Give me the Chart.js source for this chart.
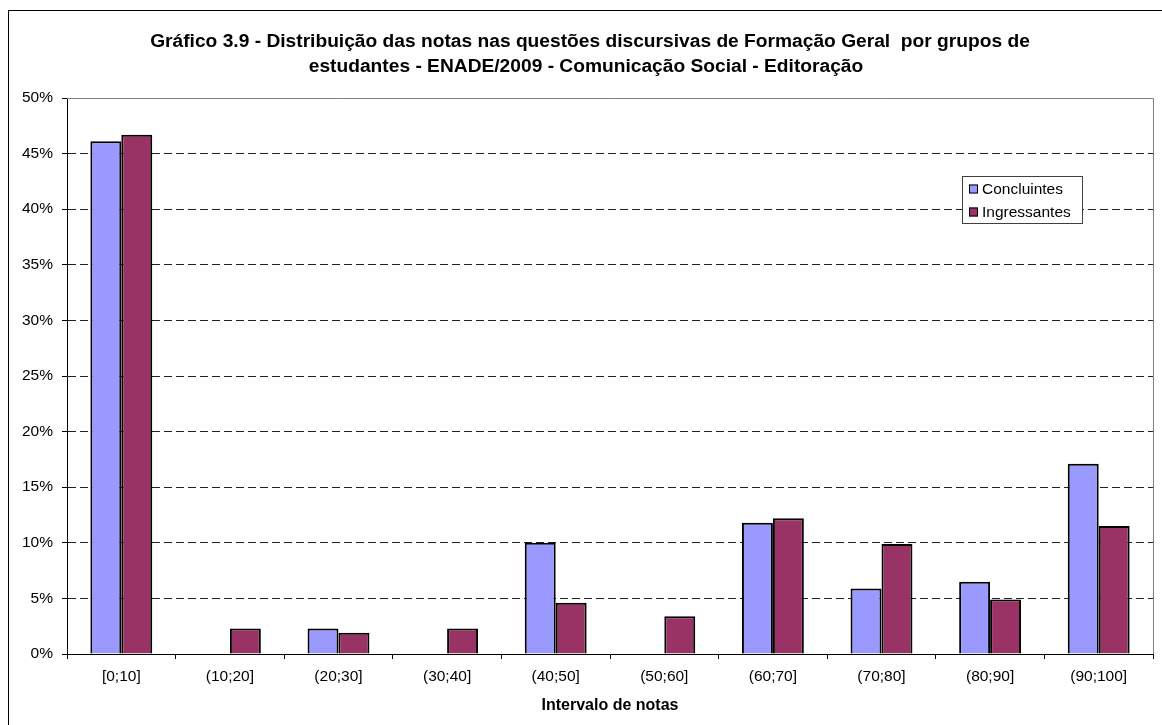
<!DOCTYPE html>
<html>
<head>
<meta charset="utf-8">
<script src="https://cdn.jsdelivr.net/npm/chart.js@4.4.1/dist/chart.umd.min.js"></script>
<style>
  html, body { margin: 0; padding: 0; background: #fff; overflow: hidden; }
  #frame { position: absolute; left: 8px; top: 10px; width: 1200px; height: 760px; border: 1px solid #000; box-sizing: border-box; }
  #wrap { position: absolute; left: 0; top: 0; width: 1162px; height: 725px; }
</style>
</head>
<body>
<div id="frame"></div>
<div id="wrap"><canvas id="c" width="1162" height="725"></canvas></div>
<script>
const categories = ['[0;10]', '(10;20]', '(20;30]', '(30;40]', '(40;50]', '(50;60]', '(60;70]', '(70;80]', '(80;90]', '(90;100]'];
const concluintes = [46.1, 0, 2.3, 0, 10.0, 0, 11.8, 5.9, 6.5, 17.1];
const ingressantes = [46.7, 2.3, 1.9, 2.3, 4.6, 3.4, 12.2, 9.9, 4.9, 11.5];
const seriesNames = ['Concluintes', 'Ingressantes'];
const titleLines = ['Gráfico 3.9 - Distribuição das notas nas questões discursivas de Formação Geral  por grupos de', 'estudantes - ENADE/2009 - Comunicação Social - Editoração'];
const xTitle = 'Intervalo de notas';

const FONT = '"Liberation Sans", Arial, sans-serif';

const decorPlugin = {
  id: 'decor',
  afterDraw(chart) {
    const ctx = chart.ctx;
    const a = chart.chartArea;
    ctx.save();
    // plot border top and right (gray)
    ctx.strokeStyle = '#808080';
    ctx.lineWidth = 1;
    ctx.beginPath();
    ctx.moveTo(a.left, Math.round(a.top) + 0.5);
    ctx.lineTo(Math.round(a.right) + 0.5, Math.round(a.top) + 0.5);
    ctx.lineTo(Math.round(a.right) + 0.5, a.bottom);
    ctx.stroke();
    // title
    ctx.fillStyle = '#000';
    ctx.font = 'bold 19.2px ' + FONT;
    ctx.textAlign = 'center';
    ctx.textBaseline = 'alphabetic';
    ctx.fillText(titleLines[0], 590, 47);
    ctx.fillText(titleLines[1], 586, 72);
    // legend
    const lx = 962, ly = 176, lw = 120, lh = 47;
    ctx.fillStyle = '#fff';
    ctx.fillRect(lx, ly, lw, lh);
    ctx.strokeStyle = '#404040';
    ctx.strokeRect(lx + 0.5, ly + 0.5, lw, lh);
    const rows = [189, 212];
    chart.data.datasets.forEach((ds, i) => {
      const cy = rows[i];
      ctx.fillStyle = ds.backgroundColor;
      ctx.fillRect(969, cy - 4.5, 9, 9);
      ctx.strokeStyle = '#000';
      ctx.strokeRect(969.5, cy - 4, 8, 8);
      ctx.fillStyle = '#000';
      ctx.font = '15.5px ' + FONT;
      ctx.textAlign = 'left';
      ctx.textBaseline = 'middle';
      ctx.fillText(ds.label, 982, cy + 0.5);
    });
    ctx.restore();
  }
};

new Chart(document.getElementById('c'), {
  type: 'bar',
  data: {
    labels: categories,
    datasets: [
      { label: seriesNames[0], data: concluintes, backgroundColor: '#9999FF', borderColor: '#000', borderWidth: 2 },
      { label: seriesNames[1], data: ingressantes, backgroundColor: '#993366', borderColor: '#000', borderWidth: 2 }
    ]
  },
  options: {
    responsive: false,
    animation: false,
    devicePixelRatio: 1,
    layout: { padding: { top: 98, left: 0, right: 9, bottom: 0 } },
    datasets: { bar: { categoryPercentage: 0.57, barPercentage: 1 } },
    plugins: { legend: { display: false }, title: { display: false }, tooltip: { enabled: false } },
    scales: {
      x: {
        afterFit(s) { s.height = 71; },
        grid: { display: true, drawOnChartArea: false, offset: true, tickLength: 5, tickColor: '#000', tickWidth: 1 },
        border: { display: true, color: '#000', width: 1 },
        ticks: { color: '#000', font: { family: FONT, size: 15.5 }, padding: 8, maxRotation: 0, autoSkip: false },
        title: { display: true, text: xTitle, color: '#000', font: { family: FONT, size: 16, weight: 'bold' }, padding: { top: 0, bottom: 10 } }
      },
      y: {
        min: 0, max: 50,
        afterFit(s) { s.width = 67; },
        grid: {
          color: (c) => (c.tick && (c.tick.value === 50 || c.tick.value === 0)) ? 'rgba(0,0,0,0)' : '#222',
          tickColor: '#000', tickLength: 5, lineWidth: 1
        },
        border: { display: true, color: '#000', width: 1, dash: [8, 4] },
        ticks: { stepSize: 5, color: '#000', padding: 9, font: { family: FONT, size: 15.5 }, callback: (v) => v + '%' }
      }
    }
  },
  plugins: [decorPlugin]
});
</script>
</body>
</html>
